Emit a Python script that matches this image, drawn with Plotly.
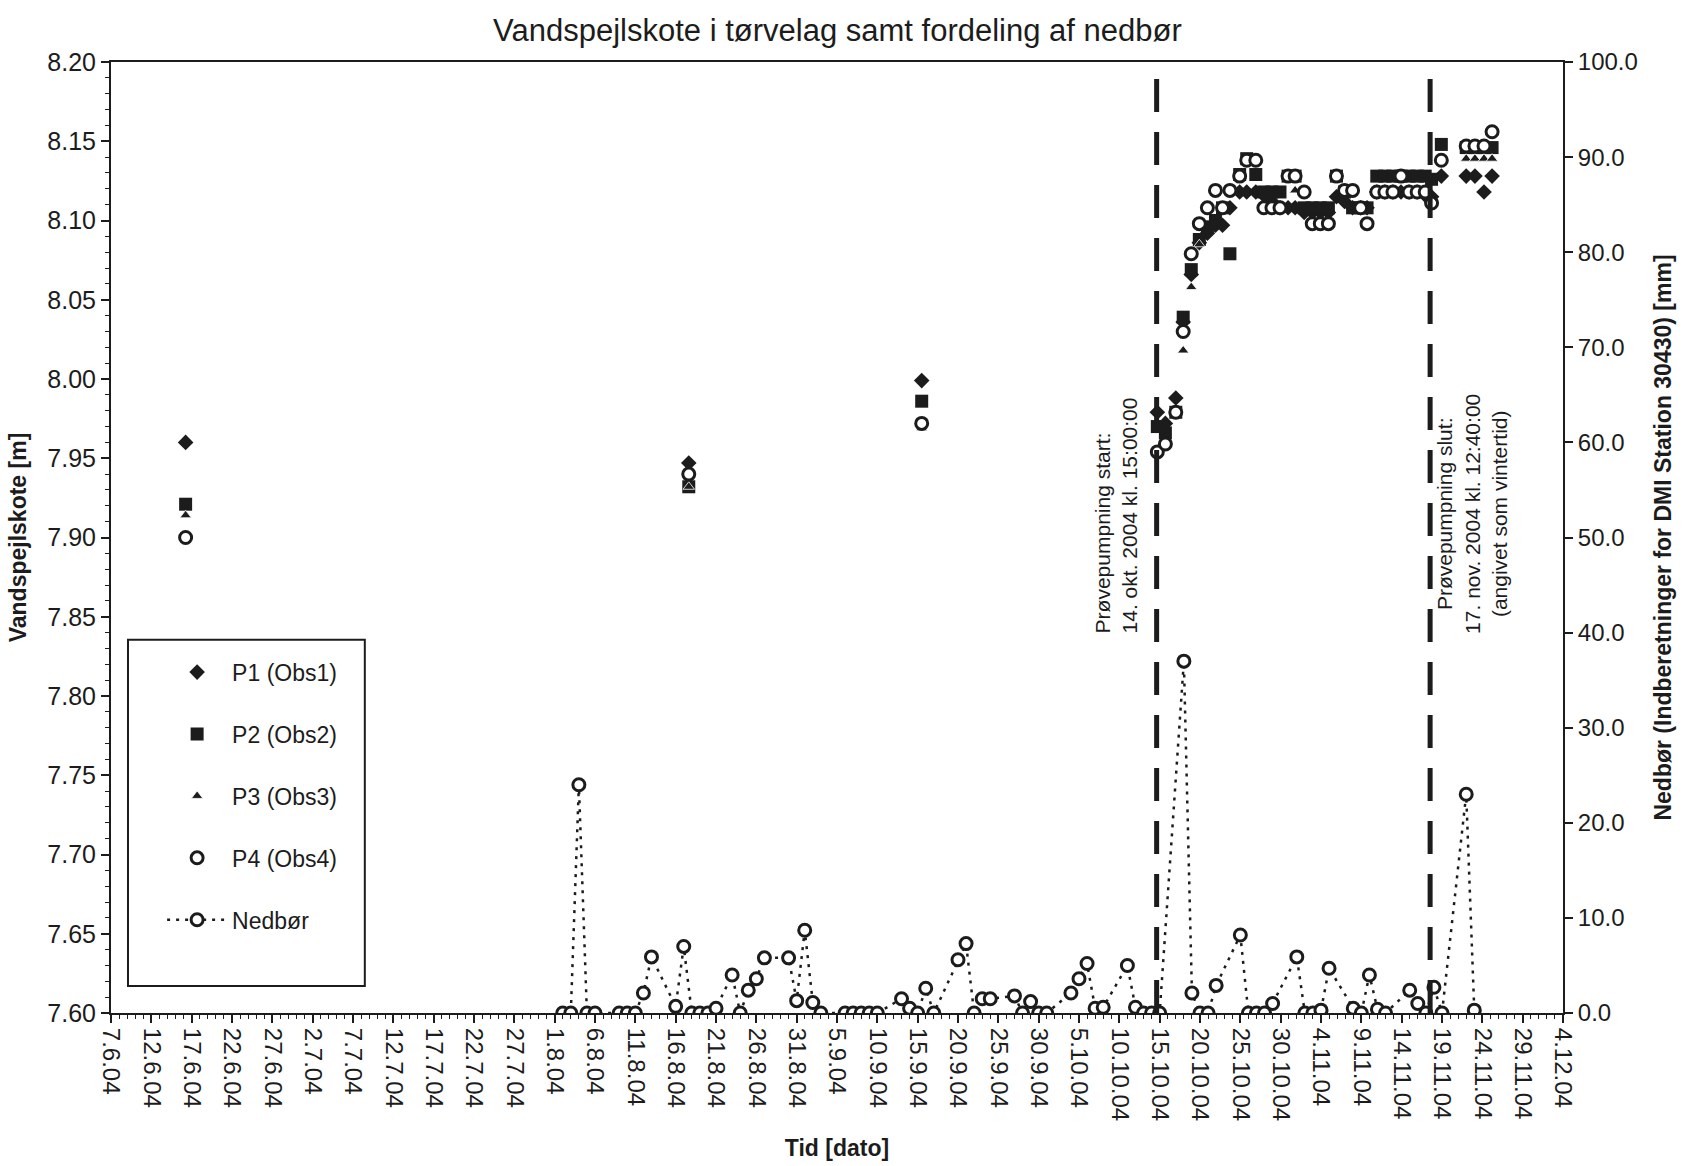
import plotly.graph_objects as go
from datetime import datetime

# ---------------- data ----------------
LEVEL_TIMES = [
    "2004-06-16 06:00", "2004-08-17 15:00", "2004-09-15 12:00",
    "2004-10-14 17:00", "2004-10-15 17:00", "2004-10-17 00:00", "2004-10-17 22:00",
    "2004-10-18 22:00", "2004-10-19 22:00", "2004-10-20 22:00", "2004-10-21 22:00",
    "2004-10-22 19:00", "2004-10-23 17:00", "2004-10-24 22:00", "2004-10-25 19:00",
    "2004-10-26 22:00", "2004-10-27 22:00", "2004-10-28 22:00", "2004-10-29 22:00",
    "2004-10-30 22:00", "2004-10-31 19:00", "2004-11-01 22:00", "2004-11-02 22:00",
    "2004-11-03 22:00", "2004-11-04 22:00", "2004-11-05 22:00", "2004-11-06 22:00",
    "2004-11-07 22:00", "2004-11-08 22:00", "2004-11-09 17:00", "2004-11-10 22:00",
    "2004-11-11 22:00", "2004-11-12 22:00", "2004-11-13 22:00", "2004-11-14 22:00",
    "2004-11-15 22:00", "2004-11-16 22:00", "2004-11-17 17:00", "2004-11-18 22:00",
    "2004-11-22 00:00", "2004-11-23 02:00", "2004-11-24 05:00", "2004-11-25 05:00",
]
P1 = [7.960, 7.947, 7.999,
      7.979, 7.972, 7.988, 8.036, 8.066, 8.086, 8.092, 8.097, 8.097, 8.108,
      8.118, 8.118, 8.118, 8.116, 8.112, 8.108, 8.108, 8.108, 8.105, 8.105,
      8.105, 8.105, 8.115, 8.112, 8.108, 8.108, 8.108, 8.118, 8.118, 8.118,
      8.118, 8.118, 8.118, 8.116, 8.115, 8.128,
      8.128, 8.128, 8.118, 8.128]
P2 = [7.921, 7.932, 7.986,
      7.970, 7.966, 7.979, 8.039, 8.069, 8.088, 8.096, 8.100, 8.108, 8.079,
      8.129, 8.139, 8.129, 8.118, 8.118, 8.118, 8.128, 8.128, 8.108, 8.108,
      8.108, 8.108, 8.128, 8.118, 8.108, 8.108, 8.108, 8.128, 8.128, 8.128,
      8.128, 8.128, 8.128, 8.128, 8.126, 8.148,
      8.146, 8.146, 8.146, 8.146]
P3 = [7.914, 7.932, 7.969,
      7.954, 7.959, 7.979, 8.018, 8.058, 8.085, 8.108, 8.119, 8.108, 8.119,
      8.128, 8.138, 8.138, 8.108, 8.108, 8.108, 8.128, 8.119, 8.118, 8.098,
      8.098, 8.098, 8.128, 8.119, 8.119, 8.108, 8.098, 8.118, 8.118, 8.118,
      8.128, 8.118, 8.118, 8.118, 8.111, 8.138,
      8.139, 8.139, 8.139, 8.139]
P4 = [7.900, 7.940, 7.972,
      7.954, 7.959, 7.979, 8.030, 8.079, 8.098, 8.108, 8.119, 8.108, 8.119,
      8.128, 8.138, 8.138, 8.108, 8.108, 8.108, 8.128, 8.128, 8.118, 8.098,
      8.098, 8.098, 8.128, 8.119, 8.119, 8.108, 8.098, 8.118, 8.118, 8.118,
      8.128, 8.118, 8.118, 8.118, 8.111, 8.138,
      8.147, 8.147, 8.147, 8.156]

PRECIP_DATES = [
    "2004-08-02", "2004-08-03", "2004-08-04", "2004-08-05", "2004-08-06",
    "2004-08-09", "2004-08-10", "2004-08-11", "2004-08-12", "2004-08-13",
    "2004-08-16", "2004-08-17", "2004-08-18", "2004-08-19", "2004-08-20",
    "2004-08-21", "2004-08-23", "2004-08-24", "2004-08-25", "2004-08-26",
    "2004-08-27", "2004-08-30", "2004-08-31", "2004-09-01", "2004-09-02",
    "2004-09-03", "2004-09-06", "2004-09-07", "2004-09-08", "2004-09-09",
    "2004-09-10", "2004-09-13", "2004-09-14", "2004-09-15", "2004-09-16",
    "2004-09-17", "2004-09-20", "2004-09-21", "2004-09-22", "2004-09-23",
    "2004-09-24", "2004-09-27", "2004-09-28", "2004-09-29", "2004-09-30",
    "2004-10-01", "2004-10-04", "2004-10-05", "2004-10-06", "2004-10-07",
    "2004-10-08", "2004-10-11", "2004-10-12", "2004-10-13", "2004-10-14",
    "2004-10-15", "2004-10-18", "2004-10-19", "2004-10-20", "2004-10-21",
    "2004-10-22", "2004-10-25", "2004-10-26", "2004-10-27", "2004-10-28",
    "2004-10-29", "2004-11-01", "2004-11-02", "2004-11-03", "2004-11-04",
    "2004-11-05", "2004-11-08", "2004-11-09", "2004-11-10", "2004-11-11",
    "2004-11-12", "2004-11-15", "2004-11-16", "2004-11-17", "2004-11-18",
    "2004-11-19", "2004-11-22", "2004-11-23",
]
PRECIP_MM = [
    0.0, 0.0, 24.0, 0.0, 0.0,
    0.0, 0.0, 0.0, 2.1, 5.9,
    0.7, 7.0, 0.0, 0.0, 0.0,
    0.5, 4.0, 0.0, 2.4, 3.6,
    5.8, 5.8, 1.3, 8.7, 1.1,
    0.0, 0.0, 0.0, 0.0, 0.0,
    0.0, 1.5, 0.5, 0.0, 2.6,
    0.0, 5.6, 7.3, 0.0, 1.5,
    1.5, 1.8, 0.0, 1.2, 0.0,
    0.0, 2.1, 3.6, 5.2, 0.5,
    0.6, 5.0, 0.6, 0.0, 0.0,
    0.0, 37.0, 2.1, 0.0, 0.0,
    2.9, 8.2, 0.0, 0.0, 0.0,
    1.0, 5.9, 0.0, 0.0, 0.3,
    4.7, 0.5, 0.0, 4.0, 0.4,
    0.0, 2.4, 1.0, 0.0, 2.7,
    0.0, 23.0, 0.3,
]

X_TICK_LABELS = [
    "7.6.04", "12.6.04", "17.6.04", "22.6.04", "27.6.04", "2.7.04", "7.7.04",
    "12.7.04", "17.7.04", "22.7.04", "27.7.04", "1.8.04", "6.8.04", "11.8.04",
    "16.8.04", "21.8.04", "26.8.04", "31.8.04", "5.9.04", "10.9.04", "15.9.04",
    "20.9.04", "25.9.04", "30.9.04", "5.10.04", "10.10.04", "15.10.04",
    "20.10.04", "25.10.04", "30.10.04", "4.11.04", "9.11.04", "14.11.04",
    "19.11.04", "24.11.04", "29.11.04", "4.12.04",
]
Y_LEFT_RANGE = [7.60, 8.20]
Y_RIGHT_RANGE = [0, 100]

EVENT_TIMES = ["2004-10-14 15:00", "2004-11-17 12:40"]
EVENT_TEXTS = [
    "Prøvepumpning start:<br>14. okt. 2004 kl. 15:00:00",
    "Prøvepumpning slut:<br>17. nov. 2004 kl. 12:40:00<br>(angivet som vintertid)",
]
EVENT_TEXT_BASE = 7.838

# ---------------- figure ----------------
INK = "#1c1c1c"
FONT = "Liberation Sans, Arial, sans-serif"

tickvals = [datetime.strptime(s, "%d.%m.%y") for s in X_TICK_LABELS]

fig = go.Figure()
fig.add_trace(go.Scatter(x=LEVEL_TIMES, y=P1, mode="markers", name="P1 (Obs1)",
                         legendgroup="a",
                         marker=dict(symbol="diamond", size=12, color=INK)))
fig.add_trace(go.Scatter(x=LEVEL_TIMES, y=P2, mode="markers", name="P2 (Obs2)",
                         legendgroup="b",
                         marker=dict(symbol="square", size=13, color=INK)))
fig.add_trace(go.Scatter(x=LEVEL_TIMES, y=P3, mode="markers", name="P3 (Obs3)",
                         legendgroup="c",
                         marker=dict(symbol="triangle-up", size=10, color=INK,
                                     line=dict(color="white", width=0.8))))
fig.add_trace(go.Scatter(x=LEVEL_TIMES, y=P4, mode="markers", name="P4 (Obs4)",
                         legendgroup="d",
                         marker=dict(symbol="circle", size=12, color="white",
                                     line=dict(color=INK, width=3))))
fig.add_trace(go.Scatter(x=PRECIP_DATES, y=PRECIP_MM, mode="lines+markers",
                         name="Nedbør", yaxis="y2", legendgroup="e",
                         line=dict(color=INK, width=2.5, dash="3px,6px"),
                         marker=dict(symbol="circle", size=12, color="white",
                                     line=dict(color=INK, width=3))))

for t in EVENT_TIMES:
    fig.add_shape(type="line", xref="x", yref="paper", x0=t, x1=t, y0=0, y1=1,
                  line=dict(color=INK, width=5, dash="33px,20px"))

fig.add_annotation(x=EVENT_TIMES[0], y=EVENT_TEXT_BASE, xref="x", yref="y",
                   text=EVENT_TEXTS[0], textangle=-90, showarrow=False,
                   xanchor="right", yanchor="bottom", xshift=-14, align="left",
                   font=dict(size=21, color=INK, family=FONT))
fig.add_annotation(x=EVENT_TIMES[1], y=EVENT_TEXT_BASE, xref="x", yref="y",
                   text=EVENT_TEXTS[1], textangle=-90, showarrow=False,
                   xanchor="left", yanchor="bottom", xshift=1, align="center",
                   font=dict(size=21, color=INK, family=FONT))

# legend frame
fig.add_shape(type="rect", xref="paper", yref="paper",
              x0=0.0117, x1=0.1748, y0=0.0284, y1=0.3926,
              line=dict(color=INK, width=2), fillcolor="white", layer="below")

fig.update_layout(
    width=1685, height=1166,
    margin=dict(l=111, r=122, t=62, b=153, autoexpand=False),
    paper_bgcolor="white", plot_bgcolor="white",
    font=dict(family=FONT, color=INK, size=22),
    title=dict(text="Vandspejlskote i tørvelag samt fordeling af nedbør",
               x=0.497, xanchor="center", y=0.974, yanchor="middle",
               font=dict(size=31, family=FONT, color=INK)),
    showlegend=True,
    legend=dict(x=0.0352, y=0.381, xanchor="left", yanchor="top",
                bgcolor="rgba(0,0,0,0)", borderwidth=0,
                font=dict(size=23, family=FONT, color=INK),
                tracegroupgap=29, itemwidth=60),
    xaxis=dict(
        type="date", range=["2004-06-07", "2004-12-04"], automargin=False,
        tickmode="array", tickvals=tickvals, ticktext=X_TICK_LABELS,
        tickangle=90, ticks="outside", ticklen=8, tickwidth=1.5, tickcolor=INK,
        tickfont=dict(size=24, family=FONT, color=INK),
        showline=True, linecolor=INK, linewidth=2, mirror=True,
        showgrid=False, zeroline=False,
        minor=dict(tick0="2004-06-07", dtick=86400000, ticks="outside",
                   ticklen=4, tickwidth=1, tickcolor=INK, showgrid=False),
        title=dict(text="<b>Tid [dato]</b>", standoff=20,
                   font=dict(size=23, family=FONT, color=INK)),
    ),
    yaxis=dict(
        range=Y_LEFT_RANGE, tick0=7.6, dtick=0.05, tickformat=".2f",
        automargin=False,
        ticks="outside", ticklen=8, tickwidth=1.5, tickcolor=INK,
        tickfont=dict(size=25, family=FONT, color=INK),
        showline=True, linecolor=INK, linewidth=2,
        showgrid=False, zeroline=False,
        minor=dict(dtick=0.01, ticks="outside", ticklen=4, tickwidth=1,
                   tickcolor=INK, showgrid=False),
        title=dict(text="<b>Vandspejlskote [m]</b>", standoff=14,
                   font=dict(size=23, family=FONT, color=INK)),
    ),
    yaxis2=dict(
        range=Y_RIGHT_RANGE, dtick=10, tickformat=".1f", overlaying="y",
        side="right", anchor="x", automargin=False,
        ticks="outside", ticklen=8, tickwidth=1.5, tickcolor=INK,
        tickfont=dict(size=24, family=FONT, color=INK),
        showline=True, linecolor=INK, linewidth=2,
        showgrid=False, zeroline=False,
        title=dict(text="<b>Nedbør (Indberetninger for DMI Station 30430) [mm]</b>",
                   standoff=18, font=dict(size=23, family=FONT, color=INK)),
    ),
)

fig.write_html("out.html",
               config={"displayModeBar": False},
               post_script="document.body.style.margin='0';"
                           "document.body.style.padding='0';")
